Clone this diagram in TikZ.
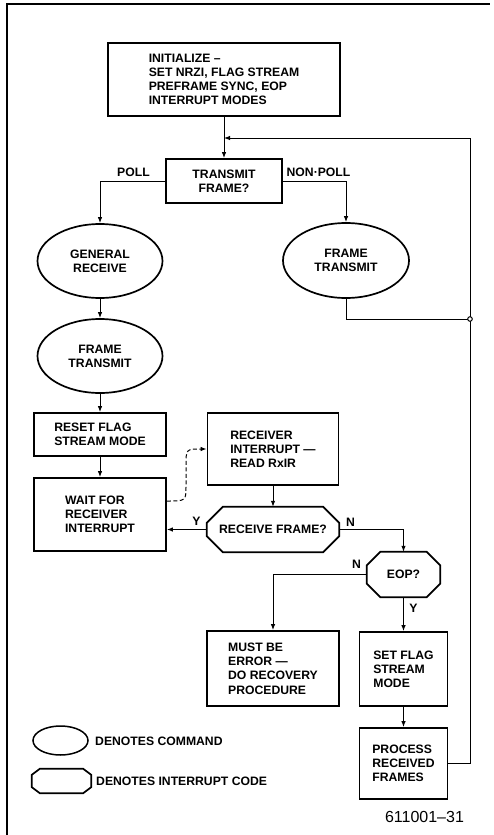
\documentclass[tikz,border=0pt]{standalone}
\usepackage{fontspec}
\setmainfont{Liberation Sans}
\usetikzlibrary{arrows.meta,shapes.geometric}
\newcommand\octpath[3]{%
  \draw[boxline] ([xshift=#2]#1.north west) -- ([xshift=-#2]#1.north east) -- ([yshift=-#3]#1.north east) -- ([yshift=#3]#1.south east) -- ([xshift=-#2]#1.south east) -- ([xshift=#2]#1.south west) -- ([yshift=#3]#1.south west) -- ([yshift=-#3]#1.north west) -- cycle;}
\begin{document}
\begin{tikzpicture}[x=1pt,y=-1pt,
  every node/.style={font=\bfseries\fontsize{12.2}{14.2}\selectfont, inner sep=0pt},
  boxline/.style={line width=1.7pt},
  box/.style={draw, boxline, rectangle, align=left},
  ell/.style={draw, boxline, ellipse, align=center},
  oct/.style={rectangle, align=center},
  conn/.style={line width=1pt, -{Latex[length=6pt,width=4.5pt]}},
  plain/.style={line width=1pt}]
\useasboundingbox (0,0) rectangle (493,835);
\draw[line width=1.2pt] (7,835) -- (7,4) -- (490,4);

\node[box, minimum width=232pt, minimum height=73pt] (init) at (224,79.5) {INITIALIZE –\\SET NRZI, FLAG STREAM\\PREFRAME SYNC, EOP\\INTERRUPT MODES};
\node[box, minimum width=116pt, minimum height=44pt, align=center] (trans) at (224,181) {TRANSMIT\\FRAME?};
\node[ell, minimum width=125pt, minimum height=74pt] (gr) at (100,261) {GENERAL\\RECEIVE};
\node[ell, minimum width=126pt, minimum height=75pt] (ftx) at (346,260.5) {FRAME\\TRANSMIT};
\node[ell, minimum width=125pt, minimum height=74pt] (ft2) at (100,356) {FRAME\\TRANSMIT};
\node[box, minimum width=132pt, minimum height=43pt] (reset) at (100,434.5) {RESET FLAG\\STREAM MODE};
\node[box, minimum width=132pt, minimum height=73pt] (wait) at (100,514.5) {WAIT FOR\\RECEIVER\\INTERRUPT};
\node[box, minimum width=131pt, minimum height=72pt] (rxi) at (273,449) {RECEIVER\\INTERRUPT —\\READ RxIR};
\node[oct, minimum width=132pt, minimum height=45pt] (rf) at (273,529.5) {RECEIVE FRAME?};
\node[oct, minimum width=73pt, minimum height=45pt] (eop) at (403.5,574.5) {EOP?};
\node[box, minimum width=132pt, minimum height=75pt] (err) at (273,668.5) {MUST BE\\ERROR —\\DO RECOVERY\\PROCEDURE};
\node[box, minimum width=88pt, minimum height=74pt] (setf) at (403.5,669) {SET FLAG\\STREAM\\MODE};
\node[box, minimum width=88pt, minimum height=71pt] (proc) at (403.5,763.5) {PROCESS\\RECEIVED\\FRAMES};
\octpath{rf}{16pt}{16pt}
\octpath{eop}{13.5pt}{13.5pt}

\node[draw, ellipse, line width=1.5pt, minimum width=55pt, minimum height=29pt] (legell) at (60.5,740.5) {};
\node[oct, minimum width=59pt, minimum height=24pt] (legoct) at (61.5,781) {};
\octpath{legoct}{8pt}{6pt}
\node[anchor=west] (legt1) at (95,741) {DENOTES COMMAND};
\node[anchor=west] (legt2) at (96,781) {DENOTES INTERRUPT CODE};
\node[font=\fontsize{16}{18}\selectfont] (fig) at (424.5,817) {611001–31};

\node (lpoll) at (133.5,172.5) {POLL};
\node (lnon) at (318.5,172.5) {NON·POLL};
\node (ly1) at (196.5,521) {Y};
\node (ln1) at (350.5,522) {N};
\node (ln2) at (356.5,564.5) {N};
\node (ly2) at (413.5,608.5) {Y};

\coordinate (j) at (470,319);
\coordinate (rc) at (470,138);
\draw[conn] (init) -- (trans);
\draw[conn] (trans.west) -| (gr.north);
\draw[conn] (trans.east) -| (ftx.north);
\draw[plain] (ftx.south) |- (j);
\draw[conn] (proc.east) -| (rc) -- (rc -| init.south);
\draw[plain, fill=white] (j) circle (2.3pt);
\draw[conn] (gr) -- (ft2);
\draw[conn] (ft2) -- (reset);
\draw[conn] (reset) -- (wait);
\draw[conn, dash pattern=on 4pt off 2.5pt] ([yshift=13.5pt]wait.east) .. controls (186,501) .. (186,486) -- (186,466) .. controls (186,449) .. (rxi.west);
\draw[conn] (rxi) -- (rf);
\draw[conn] (rf.west) -- (rf.west -| wait.east);
\draw[conn] (rf.east) -| (eop.north);
\draw[conn] (eop.west) -| (err.north);
\draw[conn] (eop) -- (setf);
\draw[conn] (setf) -- (proc);
\end{tikzpicture}
\end{document}
